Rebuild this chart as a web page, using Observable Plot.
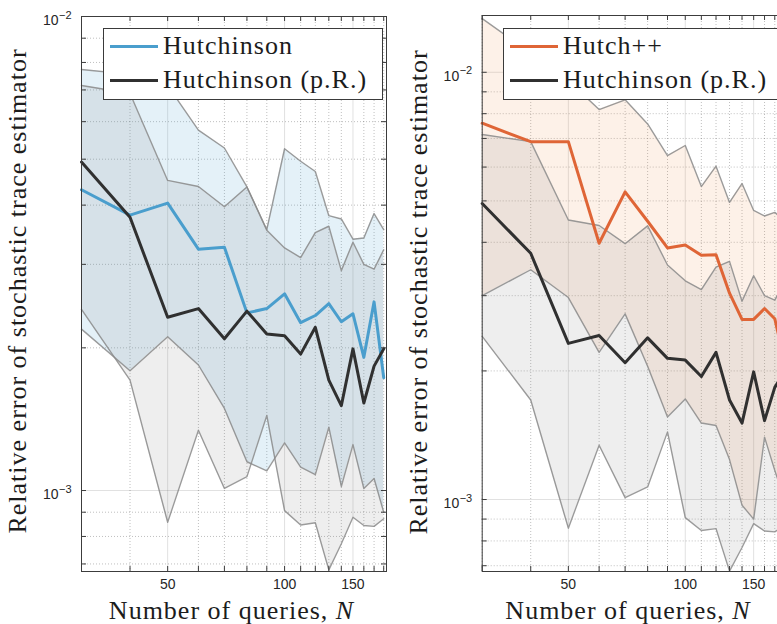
<!DOCTYPE html>
<html>
<head>
<meta charset="utf-8">
<script src="https://cdn.jsdelivr.net/npm/d3@7"></script>
<script src="https://cdn.jsdelivr.net/npm/@observablehq/plot@0.6"></script>
<style>
  html, body { margin: 0; padding: 0; background: #fff; }
  #wrap { position: relative; width: 777px; height: 624px; overflow: hidden; background: #fff; }
  .panel { position: absolute; top: 0; height: 624px; }
  .panel svg { display: block; max-width: none !important; }
  .lab { position: absolute; font-family: "Liberation Serif", "DejaVu Serif", serif; font-size: 26px; line-height: 26px;
         color: #1c1c1c; white-space: nowrap; letter-spacing: 1px; text-align: center; }
  .legend { position: absolute; background: #fff; border: 1px solid #3a3a3a; box-sizing: border-box; z-index: 5; }
  .legend .sw { position: absolute; width: 48px; height: 3px; }
  .legend .tx { position: absolute; font-family: "Liberation Serif", "DejaVu Serif", serif; font-size: 26px; line-height: 26px;
                color: #1c1c1c; white-space: nowrap; letter-spacing: 1px; }
</style>
</head>
<body>
<div id="wrap"></div>
<script>
// ---------------- data ----------------
const N = [30, 40, 50, 60, 70, 80, 90, 100, 110, 120, 130, 140, 150, 160, 170, 180];

// Hutchinson (blue): median, upper and lower band
const hutchMedian = [4.31e-3, 3.81e-3, 4.04e-3, 3.23e-3, 3.26e-3, 2.37e-3, 2.42e-3, 2.60e-3, 2.26e-3, 2.34e-3, 2.48e-3, 2.27e-3, 2.36e-3, 1.91e-3, 2.50e-3, 1.73e-3];
const hutchUpper  = [7.73e-3, 7.55e-3, 7.15e-3, 5.76e-3, 5.28e-3, 4.37e-3, 3.55e-3, 5.26e-3, 4.95e-3, 4.71e-3, 3.80e-3, 3.74e-3, 3.39e-3, 3.41e-3, 3.84e-3, 3.55e-3];
const hutchLower  = [2.19e-3, 1.79e-3, 2.11e-3, 1.84e-3, 1.49e-3, 1.15e-3, 1.10e-3, 1.26e-3, 1.12e-3, 1.08e-3, 1.36e-3, 1.02e-3, 1.25e-3, 1.01e-3, 1.06e-3, 0.90e-3];

// Hutchinson (p.R.) (black): median, upper and lower band
const prMedian = [4.93e-3, 3.77e-3, 2.32e-3, 2.42e-3, 2.09e-3, 2.39e-3, 2.14e-3, 2.12e-3, 1.94e-3, 2.21e-3, 1.71e-3, 1.51e-3, 1.99e-3, 1.53e-3, 1.83e-3, 1.99e-3];
const prUpper  = [7.15e-3, 6.88e-3, 4.51e-3, 4.38e-3, 3.97e-3, 4.37e-3, 3.54e-3, 3.25e-3, 3.10e-3, 3.50e-3, 3.61e-3, 2.91e-3, 3.34e-3, 3.00e-3, 2.93e-3, 3.22e-3];
const prLower  = [2.41e-3, 1.71e-3, 0.857e-3, 1.34e-3, 1.01e-3, 1.07e-3, 1.44e-3, 0.907e-3, 0.846e-3, 0.855e-3, 0.680e-3, 0.772e-3, 0.878e-3, 0.844e-3, 0.840e-3, 0.872e-3];

// Hutch++ (orange): median, upper and lower band
const hppMedian = [7.60e-3, 6.88e-3, 6.88e-3, 3.98e-3, 5.25e-3, 4.48e-3, 3.88e-3, 3.94e-3, 3.73e-3, 3.74e-3, 3.04e-3, 2.64e-3, 2.64e-3, 2.80e-3, 2.65e-3, 2.12e-3];
const hppUpper  = [1.335e-2, 1.11e-2, 9.56e-3, 8.18e-3, 8.62e-3, 7.57e-3, 6.38e-3, 6.74e-3, 5.40e-3, 6.03e-3, 4.96e-3, 5.49e-3, 4.75e-3, 4.61e-3, 4.70e-3, 4.50e-3];
const hppLower  = [3.00e-3, 3.45e-3, 2.97e-3, 2.21e-3, 2.72e-3, 2.05e-3, 1.56e-3, 1.72e-3, 1.51e-3, 1.49e-3, 1.24e-3, 0.97e-3, 0.90e-3, 1.40e-3, 1.17e-3, 1.00e-3];

// ticks and labels
const xTickLabels = [50, 100, 150];
const xMinorTicks = [30, 40, 60, 70, 80, 90, 110, 120, 130, 140, 160, 170, 180];
const yMajorTicks = [1e-3, 1e-2];
const yTickExponents = ["\u22123", "\u22122"];
const yMinorTicks = [7e-4, 8e-4, 9e-4, 2e-3, 3e-3, 4e-3, 5e-3, 6e-3, 7e-3, 8e-3, 9e-3];
const xTitle = "Number of queries, ";
const xTitleVar = "N";
const yTitle = "Relative error of stochastic trace estimator";
const legendLeft = ["Hutchinson", "Hutchinson (p.R.)"];
const legendRight = ["Hutch++", "Hutchinson (p.R.)"];

// ---------------- styling ----------------
const COL = { hutch: "#4A9ECD", hpp: "#DF6536", pr: "#303030" };
const xDomain = [30, 183];

function makePanel({ width, marginLeft, marginRight, marginTop, yDomain, med, lo, hi, color, fill, fillOpacity }) {
  const height = 624, marginBottom = 53;
  const plotH = height - marginTop - marginBottom;
  const plotW = width - marginLeft - marginRight;
  const inY = v => v >= yDomain[0] * 0.999 && v <= yDomain[1] * 1.001;
  const mainRows = N.map((n, i) => ({ n, med: med[i], lo: lo[i], hi: hi[i] }));
  const prRows = N.map((n, i) => ({ n, med: prMedian[i], lo: prLower[i], hi: prUpper[i] }));
  const edge = { stroke: "#8a8a8a", strokeWidth: 1.4, strokeOpacity: 0.85 };
  const allX = xMinorTicks.concat(xTickLabels);
  const yMaj = yMajorTicks.filter(inY);
  const allY = yMinorTicks.filter(inY).concat(yMaj);
  const axisCol = "#3c3c3c";
  return Plot.plot({
    width, height, marginTop, marginBottom, marginLeft, marginRight,
    x: { type: "log", domain: xDomain, axis: null },
    y: { type: "log", domain: yDomain, axis: null },
    style: { fontFamily: "'Liberation Sans', Arial, Helvetica, sans-serif", background: "transparent", overflow: "visible", maxWidth: "none" },
    marks: [
      // grid
      Plot.ruleX(xMinorTicks, { stroke: "#000", strokeOpacity: 0.25, strokeDasharray: "1,2" }),
      Plot.ruleY(yMinorTicks.filter(inY), { stroke: "#000", strokeOpacity: 0.25, strokeDasharray: "1,2" }),
      Plot.ruleX(xTickLabels, { stroke: "#000", strokeOpacity: 0.12 }),
      Plot.ruleY(yMaj, { stroke: "#000", strokeOpacity: 0.12 }),
      // bands
      Plot.areaY(mainRows, { x: "n", y1: "lo", y2: "hi", fill, fillOpacity }),
      Plot.areaY(prRows, { x: "n", y1: "lo", y2: "hi", fill: "#7f7f7f", fillOpacity: 0.13 }),
      Plot.line(mainRows, { x: "n", y: "hi", ...edge }),
      Plot.line(mainRows, { x: "n", y: "lo", ...edge }),
      Plot.line(prRows, { x: "n", y: "hi", ...edge }),
      Plot.line(prRows, { x: "n", y: "lo", ...edge }),
      // medians
      Plot.line(mainRows, { x: "n", y: "med", stroke: color, strokeWidth: 3 }),
      Plot.line(prRows, { x: "n", y: "med", stroke: COL.pr, strokeWidth: 3 }),
      // box and inward ticks
      Plot.frame({ stroke: axisCol, strokeWidth: 1 }),
      Plot.ruleX(allX, { stroke: axisCol, insetTop: plotH - 5 }),
      Plot.ruleX(allX, { stroke: axisCol, insetBottom: plotH - 5 }),
      Plot.ruleY(allY, { stroke: axisCol, insetRight: plotW - 5 }),
      Plot.ruleY(allY, { stroke: axisCol, insetLeft: plotW - 5 }),
      // tick labels
      Plot.text(xTickLabels, { x: d => d, frameAnchor: "bottom", dy: 17, text: d => String(d), fontSize: 14, fill: "#262626" }),
      Plot.text(yMaj, { y: d => d, frameAnchor: "left", dx: -23, dy: 4, textAnchor: "end", text: () => "10", fontSize: 14, fill: "#262626" }),
      Plot.text(yMaj, { y: d => d, frameAnchor: "left", dx: -22.5, dy: -1.5, textAnchor: "start",
        text: d => yTickExponents[yMajorTicks.indexOf(d)], fontSize: 11, fill: "#262626" })
    ]
  });
}

const wrap = document.getElementById("wrap");

function addPanel(left, width, svg) {
  const d = document.createElement("div");
  d.className = "panel";
  d.style.left = left + "px";
  d.style.width = width + "px";
  svg.style.maxWidth = "none";
  svg.style.width = width + "px";
  svg.style.height = "624px";
  d.appendChild(svg);
  wrap.appendChild(d);
}

addPanel(0, 390, makePanel({
  width: 390, marginLeft: 81, marginRight: 4, marginTop: 16, yDomain: [6.748e-4, 1e-2],
  med: hutchMedian, lo: hutchLower, hi: hutchUpper, color: COL.hutch, fill: "#4A9ECD", fillOpacity: 0.15
}));
addPanel(390, 400, makePanel({
  width: 400, marginLeft: 91.7, marginRight: 3.3, marginTop: 15, yDomain: [6.785e-4, 1.358e-2],
  med: hppMedian, lo: hppLower, hi: hppUpper, color: COL.hpp, fill: "#EC8A45", fillOpacity: 0.12
}));

// axis titles
function addXTitle(cx) {
  const d = document.createElement("div");
  d.className = "lab";
  d.style.left = (cx - 200) + "px";
  d.style.width = "400px";
  d.style.top = "597.5px";
  d.textContent = xTitle;
  const it = document.createElement("i");
  it.textContent = xTitleVar;
  d.appendChild(it);
  wrap.appendChild(d);
}
function addYTitle(cx, cy) {
  const d = document.createElement("div");
  d.className = "lab";
  d.style.left = (cx - 300) + "px";
  d.style.width = "600px";
  d.style.top = (cy - 13) + "px";
  d.style.transform = "rotate(-90deg)";
  d.textContent = yTitle;
  wrap.appendChild(d);
}
addXTitle(231.5);
addXTitle(628);
addYTitle(18.2, 291);
addYTitle(419.2, 292);

// legends
function addLegend(left, labels, colors) {
  const box = document.createElement("div");
  box.className = "legend";
  box.style.left = left + "px";
  box.style.top = "28px";
  box.style.width = "280px";
  box.style.height = "72px";
  labels.forEach((lab, i) => {
    const sw = document.createElement("div");
    sw.className = "sw";
    sw.style.left = "6px";
    sw.style.top = (16.2 + i * 33.5) + "px";
    sw.style.background = colors[i];
    box.appendChild(sw);
    const tx = document.createElement("div");
    tx.className = "tx";
    tx.style.left = "59px";
    tx.style.top = (4.2 + i * 33.5) + "px";
    tx.textContent = lab;
    box.appendChild(tx);
  });
  wrap.appendChild(box);
}
addLegend(103, legendLeft, [COL.hutch, COL.pr]);
addLegend(503, legendRight, [COL.hpp, COL.pr]);
</script>
</body>
</html>
